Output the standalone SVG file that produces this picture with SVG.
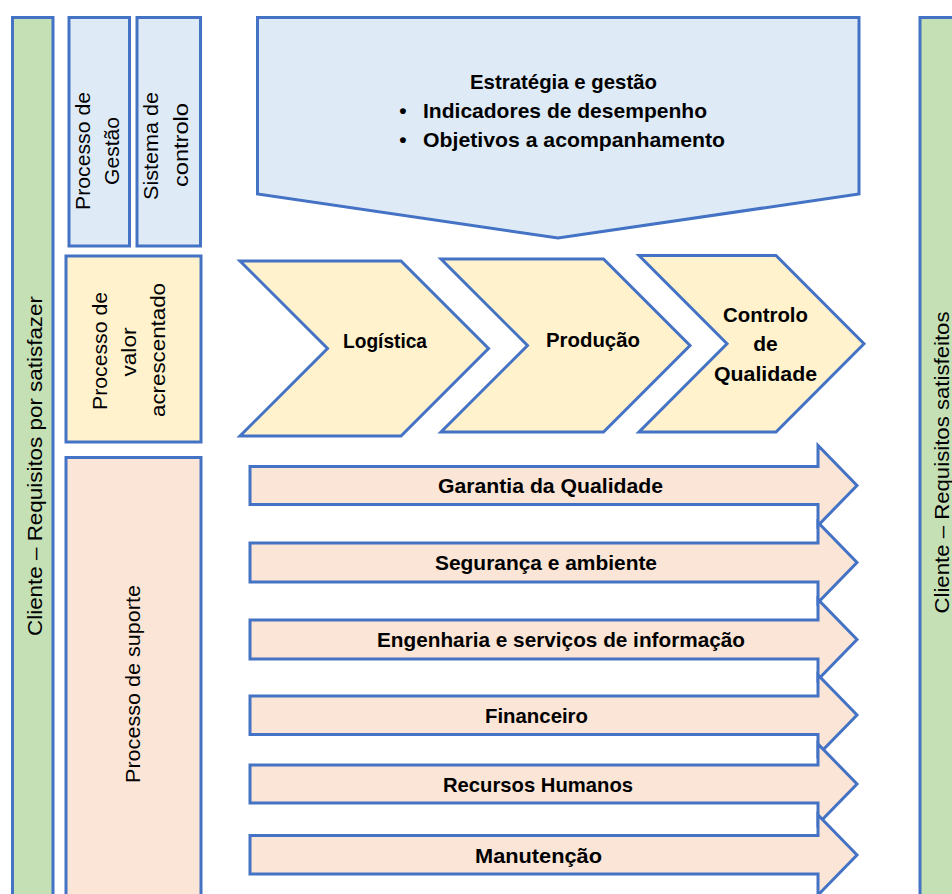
<svg xmlns="http://www.w3.org/2000/svg" width="952" height="894" viewBox="0 0 952 894">
<style>
.s{stroke:#4472C4;stroke-width:3;stroke-linejoin:miter}
.g{fill:#C5E0B4}
.b{fill:#DEEBF7}
.y{fill:#FFF2CC}
.p{fill:#FBE5D6}
text{font-family:"Liberation Sans",Arial,sans-serif;font-size:21px;fill:#000}
.bd{font-weight:bold}
.m{text-anchor:middle}
</style>
<rect width="952" height="894" fill="#FFFFFF"/>
<g id="cliente-entrada">
<rect class="s g" x="12.5" y="17.5" width="40.5" height="900"/>
<text class="m" transform="translate(41.5,466) rotate(-90)" textLength="340" lengthAdjust="spacingAndGlyphs">Cliente – Requisitos por satisfazer</text>
</g>
<g id="processo-gestao">
<rect class="s b" x="69" y="17.5" width="60.5" height="228.5"/>
<text class="m" transform="translate(90,151) rotate(-90)" textLength="118" lengthAdjust="spacingAndGlyphs">Processo de</text>
<text class="m" transform="translate(119,151) rotate(-90)" textLength="68" lengthAdjust="spacingAndGlyphs">Gestão</text>
</g>
<g id="sistema-controlo">
<rect class="s b" x="137" y="17.5" width="63.5" height="228.5"/>
<text class="m" transform="translate(158,146) rotate(-90)" textLength="108" lengthAdjust="spacingAndGlyphs">Sistema de</text>
<text class="m" transform="translate(187.5,145) rotate(-90)" textLength="84" lengthAdjust="spacingAndGlyphs">controlo</text>
</g>
<g id="processo-valor">
<rect class="s y" x="66" y="256" width="135" height="186"/>
<text class="m" transform="translate(107,351) rotate(-90)" textLength="118" lengthAdjust="spacingAndGlyphs">Processo de</text>
<text class="m" transform="translate(136,352) rotate(-90)" textLength="49" lengthAdjust="spacingAndGlyphs">valor</text>
<text class="m" transform="translate(165,350) rotate(-90)" textLength="134" lengthAdjust="spacingAndGlyphs">acrescentado</text>
</g>
<g id="processo-suporte">
<rect class="s p" x="66" y="457.5" width="135" height="460"/>
<text class="m" transform="translate(140,684) rotate(-90)" textLength="198" lengthAdjust="spacingAndGlyphs">Processo de suporte</text>
</g>
<g id="estrategia">
<polygon class="s b" points="257.5,17.5 859,17.5 859,194 558,238 257.5,194"/>
<text class="m bd" x="563.5" y="89" textLength="187" lengthAdjust="spacingAndGlyphs">Estratégia e gestão</text>
<text class="m bd" x="403" y="118">•</text>
<text class="bd" x="423" y="118" textLength="284" lengthAdjust="spacingAndGlyphs">Indicadores de desempenho</text>
<text class="m bd" x="403" y="146.5">•</text>
<text class="bd" x="423" y="146.5" textLength="302" lengthAdjust="spacingAndGlyphs">Objetivos a acompanhamento</text>
</g>
<g id="logistica">
<polygon class="s y" points="240,261 401,261 488.5,348.5 401,436 240,436 327.5,348.5"/>
<text class="m bd" x="385" y="348" textLength="84" lengthAdjust="spacingAndGlyphs">Logística</text>
</g>
<g id="producao">
<polygon class="s y" points="441,259 603.5,259 690,345.5 603.5,432 441,432 527.5,345.5"/>
<text class="m bd" x="593" y="347" textLength="94" lengthAdjust="spacingAndGlyphs">Produção</text>
</g>
<g id="controlo-qualidade">
<polygon class="s y" points="639,255.5 776,255.5 864,343.7 776,432 639,432 727,343.7"/>
<text class="m bd" x="765.5" y="321.5" textLength="85" lengthAdjust="spacingAndGlyphs">Controlo</text>
<text class="m bd" x="765.5" y="351">de</text>
<text class="m bd" x="765.5" y="380.5" textLength="103" lengthAdjust="spacingAndGlyphs">Qualidade</text>
</g>
<g id="garantia-qualidade">
<polygon class="s p" points="250,466.5 818,466.5 818,445.5 857,485.5 818,525.5 818,504.5 250,504.5"/>
<text class="m bd" x="550.5" y="493" textLength="225" lengthAdjust="spacingAndGlyphs">Garantia da Qualidade</text>
</g>
<g id="seguranca-ambiente">
<polygon class="s p" points="250,543 818,543 818,522.5 857,562.5 818,602.5 818,582 250,582"/>
<text class="m bd" x="546" y="570" textLength="222" lengthAdjust="spacingAndGlyphs">Segurança e ambiente</text>
</g>
<g id="engenharia">
<polygon class="s p" points="250,620 818,620 818,599.5 857,639.5 818,679.5 818,659 250,659"/>
<text class="m bd" x="561" y="647" textLength="368" lengthAdjust="spacingAndGlyphs">Engenharia e serviços de informação</text>
</g>
<g id="financeiro">
<polygon class="s p" points="250,696 818,696 818,675 857,715 818,755 818,734.5 250,734.5"/>
<text class="m bd" x="536.5" y="722.5" textLength="103" lengthAdjust="spacingAndGlyphs">Financeiro</text>
</g>
<g id="recursos-humanos">
<polygon class="s p" points="250,765 818,765 818,744 857,784 818,824 818,803 250,803"/>
<text class="m bd" x="538" y="791.5" textLength="190" lengthAdjust="spacingAndGlyphs">Recursos Humanos</text>
</g>
<g id="manutencao">
<polygon class="s p" points="250,835.5 818,835.5 818,815 857,855 818,895 818,874 250,874"/>
<text class="m bd" x="538.5" y="862.5" textLength="127" lengthAdjust="spacingAndGlyphs">Manutenção</text>
</g>
<g id="cliente-saida">
<rect class="s g" x="920" y="17.5" width="60" height="900"/>
<text class="m" transform="translate(948.5,462.5) rotate(-90)" textLength="302" lengthAdjust="spacingAndGlyphs">Cliente – Requisitos satisfeitos</text>
</g>
<g id="connectors"></g>
</svg>
